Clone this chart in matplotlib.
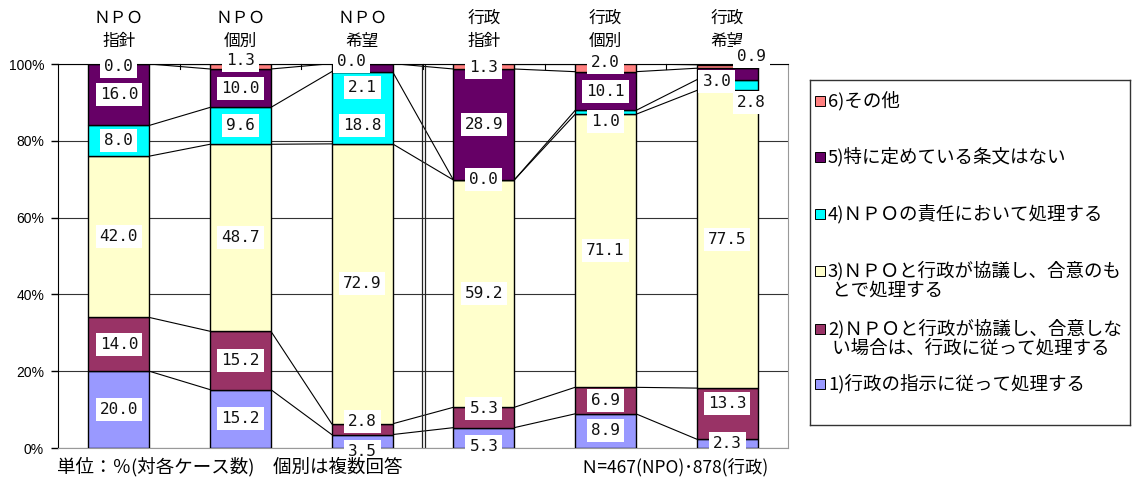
import numpy as np
import matplotlib
matplotlib.use('Agg')
from matplotlib import pyplot as plt
from matplotlib.patches import Rectangle

plt.rcParams['font.family'] = ['Noto Sans CJK JP', 'DejaVu Sans']

# --- data ---
categorias = ['ＮＰＯ\n指針', 'ＮＰＯ\n個別', 'ＮＰＯ\n希望', '行政\n指針', '行政\n個別', '行政\n希望']
nomes = ['1)行政の指示に従って処理する',
         '2)ＮＰＯと行政が協議し、合意しな\n い場合は、行政に従って処理する',
         '3)ＮＰＯと行政が協議し、合意のも\n とで処理する',
         '4)ＮＰＯの責任において処理する',
         '5)特に定めている条文はない',
         '6)その他']
s1 = [20.0, 15.2, 3.5, 5.3, 8.9, 2.3]
s2 = [14.0, 15.2, 2.8, 5.3, 6.9, 13.3]
s3 = [42.0, 48.7, 72.9, 59.2, 71.1, 77.5]
s4 = [8.0, 9.6, 18.8, 0.0, 1.0, 2.8]
s5 = [16.0, 10.0, 2.1, 28.9, 10.1, 3.0]
s6 = [0.0, 1.3, 0.0, 1.3, 2.0, 0.9]
series = [s1, s2, s3, s4, s5, s6]
cores = ['#9999FF', '#993366', '#FFFFCC', '#00FFFF', '#660066', '#FF8080']

# rotulos deslocados manualmente (serie, barra): (dx, y)
ajustes = {(5, 0): (0, 99.4), (5, 1): (0, 100.9), (5, 2): (-0.09, 100.6),
           (4, 2): (0, 94.0), (3, 2): (0, 84.0), (1, 2): (0, 6.8), (0, 2): (0, -1.0),
           (5, 3): (0, 99.0), (1, 3): (0, 10.2), (0, 3): (0, 0.4),
           (5, 4): (0, 100.5), (3, 4): (0, 85.0),
           (5, 5): (0.2, 101.9), (4, 5): (-0.085, 95.4), (3, 5): (0.2, 90.0), (1, 5): (0, 11.5)}

W, H = 1136, 490
fig = plt.figure(figsize=(W / 100, H / 100), dpi=100)
ax = fig.add_axes([58 / W, 1 - 448 / H, 730 / W, 384 / H])

x = np.arange(len(categorias))
largura = 0.5
base = np.zeros(len(categorias))
acumulados = []
for i, vals in enumerate(series):
    vals = np.array(vals)
    ax.bar(x, vals, largura, bottom=base, color=cores[i], edgecolor='black', linewidth=1.0, zorder=3)
    base = base + vals
    acumulados.append(base.copy())

# linhas de serie entre barras
for cum in acumulados:
    for j in range(len(x) - 1):
        ax.plot([x[j] + largura / 2, x[j + 1] - largura / 2], [cum[j], cum[j + 1]],
                color='black', lw=0.8, zorder=2)

# rotulos
base = np.zeros(len(categorias))
for i, vals in enumerate(series):
    for j, v in enumerate(vals):
        dx, yy = ajustes.get((i, j), (0, base[j] + v / 2))
        ax.text(x[j] + dx, yy, '%.1f' % v, ha='center', va='center', fontsize=11.5,
                family='DejaVu Sans Mono', color='#111111', zorder=5, clip_on=False,
                bbox=dict(boxstyle='square,pad=0.25', fc='white', ec='none'))
    base = base + np.array(vals)

ax.set_xlim(-0.5, len(categorias) - 0.5)
ax.set_ylim(0, 100)
ax.set_yticks(np.arange(0, 101, 20))
ax.set_yticklabels(['%d%%' % v for v in range(0, 101, 20)], fontsize=10, family='Liberation Sans')
ax.tick_params(axis='y', length=5, width=1, direction='out', pad=5)
ax.yaxis.grid(True, color='#333333', lw=0.8, zorder=0)
ax.set_xticks([])
for b in np.arange(0.5, len(categorias) - 0.5, 1):
    ax.plot([b, b], [100, 98.7], color='black', lw=0.8, clip_on=False, zorder=2)

# separador duplo
for xs in (2.49, 2.515):
    ax.plot([xs, xs], [0, 100], color='#222222', lw=0.9, zorder=2)

ax.spines['left'].set_color('black')
ax.spines['top'].set_color('black')
ax.spines['bottom'].set_color('#999999')
ax.spines['right'].set_color('#999999')

# titulos das categorias (duas linhas)
for j, c in enumerate(categorias):
    l1, l2 = c.split('\n')
    ax.text(x[j], 111.9, l1, ha='center', va='center', fontsize=12, clip_on=False)
    ax.text(x[j], 105.9, l2, ha='center', va='center', fontsize=12, clip_on=False)

# legenda
lg = fig.add_axes([810 / W, 1 - 425 / H, 320 / W, 345 / H])
lg.set_xlim(0, 320)
lg.set_ylim(345, 0)
lg.set_xticks([])
lg.set_yticks([])
for s in lg.spines.values():
    s.set_color('#333333')
    s.set_linewidth(1)
ys = [21, 77, 134, 191, 249, 304]
for k in range(6):
    i = 5 - k
    lg.add_patch(Rectangle((5, ys[k] - 5), 10, 10, fc=cores[i], ec='black', lw=0.7))
    for n, t in enumerate(nomes[i].split('\n')):
        lg.text(18, ys[k] + n * 20, t, ha='left', va='center', fontsize=13.3)

fig.text(57 / W, 1 - 467 / H, '単位：％(対各ケース数)　個別は複数回答', ha='left', va='center', fontsize=13.3)
fig.text(580 / W, 1 - 467 / H, 'Ｎ=467(NPO)･878(行政)', ha='left', va='center', fontsize=12.5)

fig.savefig('out.png', dpi=100)
